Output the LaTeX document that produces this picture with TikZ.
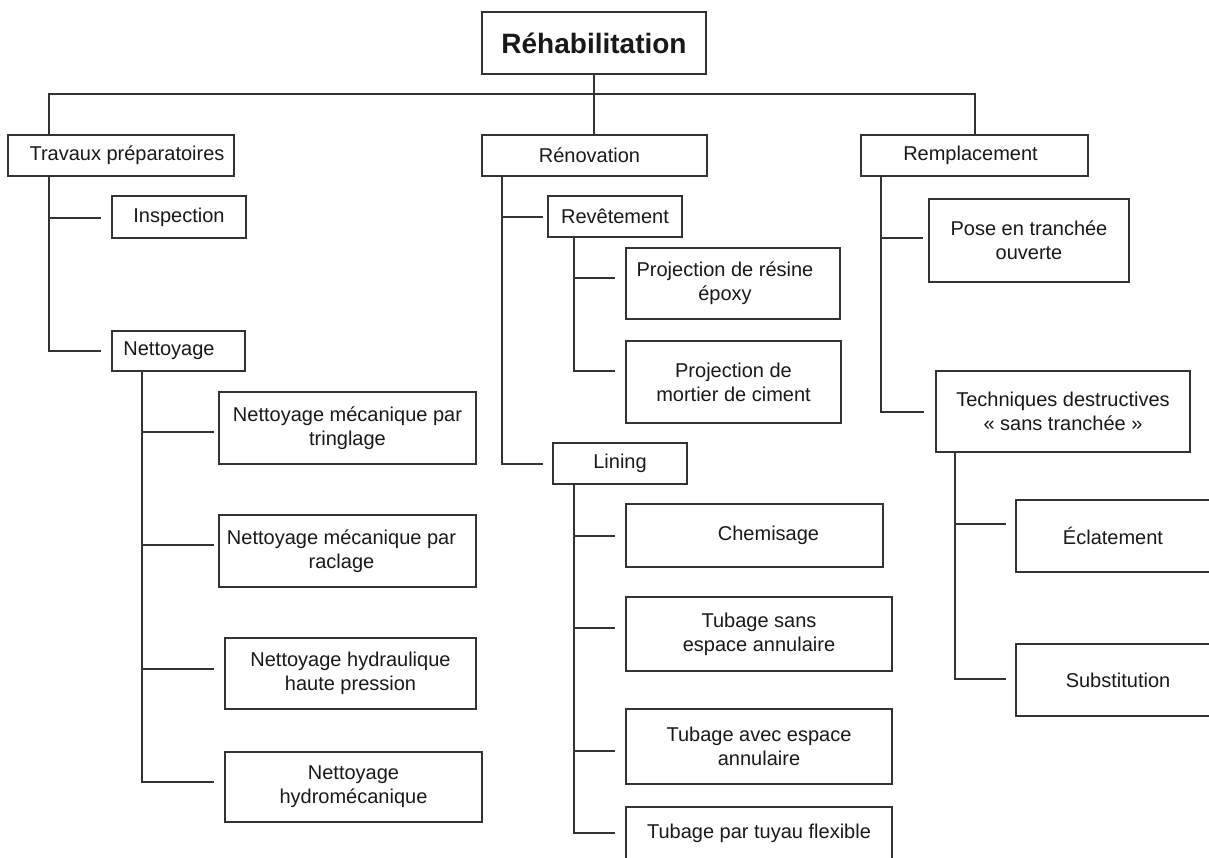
\documentclass[tikz,border=0pt]{standalone}
\usepackage{fontspec}
\setmainfont{Liberation Sans}
\begin{document}
\begin{tikzpicture}[x=1pt,y=-1pt,
  line/.style={draw=black!80,line width=1.3pt},
  box/.style={line,inner sep=0pt,align=center,text=black!90,
    font=\fontsize{20pt}{24pt}\selectfont},
  titlebox/.style={box,font=\fontsize{28pt}{32pt}\selectfont\bfseries}]
\useasboundingbox (0,0) rectangle (1209,857);
\fill[white] (0,0) rectangle (1209,857);
\clip (0,0) rectangle (1209,857);

% boxes
\node[titlebox,minimum width=224pt,minimum height=62pt] (reh) at (594,43) {Réhabilitation};
\node[box,minimum width=226pt,minimum height=41pt] (trav) at (121,155.5) {\hspace*{12pt}Travaux préparatoires};
\node[box,minimum width=225pt,minimum height=41pt] (ren) at (594.5,155.5) {Rénovation\hspace*{10pt}};
\node[box,minimum width=227pt,minimum height=41pt] (rem) at (974.5,155.5) {Remplacement\hspace*{8pt}};

\node[box,minimum width=134pt,minimum height=42pt] (insp) at (179,217) {Inspection};
\node[box,minimum width=133pt,minimum height=40pt] (nett) at (178.5,351) {Nettoyage\hspace*{19pt}};
\node[box,minimum width=257pt,minimum height=72pt] (nmt) at (347.5,428) {Nettoyage mécanique par\\tringlage};
\node[box,minimum width=257pt,minimum height=72pt] (nmr) at (347.5,551) {Nettoyage mécanique par\hspace*{12pt}\\raclage\hspace*{12pt}};
\node[box,minimum width=251pt,minimum height=71pt] (nhhp) at (350.5,673.5) {Nettoyage hydraulique\\haute pression};
\node[box,minimum width=257pt,minimum height=70pt] (nh) at (353.5,787) {Nettoyage\\hydromécanique};

\node[box,minimum width=134pt,minimum height=41pt] (rev) at (615,216.5) {Revêtement};
\node[box,minimum width=214pt,minimum height=71pt] (res) at (733,283.5) {Projection de résine\hspace*{16pt}\\époxy\hspace*{16pt}};
\node[box,minimum width=215pt,minimum height=82pt] (mort) at (733.5,382) {Projection de\\mortier de ciment};
\node[box,minimum width=134pt,minimum height=41pt] (lin) at (620,463.5) {Lining};
\node[box,minimum width=257pt,minimum height=63pt] (chem) at (754.5,535.5) {\hspace*{28pt}Chemisage};
\node[box,minimum width=266pt,minimum height=74pt] (tsans) at (759,634) {Tubage sans\\espace annulaire};
\node[box,minimum width=266pt,minimum height=75pt] (tavec) at (759,746.5) {Tubage avec espace\\annulaire};
\node[box,minimum width=266pt,minimum height=53pt] (tflex) at (759,833.5) {Tubage par tuyau flexible};

\node[box,minimum width=200pt,minimum height=83pt] (pose) at (1029,240.5) {Pose en tranchée\\ouverte};
\node[box,minimum width=254pt,minimum height=81pt] (tech) at (1063,411.5) {Techniques destructives\\« sans tranchée »};
\node[box,minimum width=194pt,minimum height=72pt] (ecl) at (1113,536) {Éclatement};
\node[box,minimum width=204pt,minimum height=72pt] (subs) at (1118,680) {Substitution};

% trunk coordinates and connector ends
\coordinate (hl) at (49,94);
\coordinate (hr) at (975,94);
\coordinate (e-insp) at (101,218);
\coordinate (e-nett) at (101,351);
\coordinate (e-nmt) at (214,432);
\coordinate (e-nmr) at (214,545);
\coordinate (e-nhhp) at (214,669);
\coordinate (e-nh) at (214,782);
\coordinate (e-rev) at (543,217);
\coordinate (e-lin) at (543,464);
\coordinate (e-res) at (615,278);
\coordinate (e-mort) at (615,371);
\coordinate (e-chem) at (615,536);
\coordinate (e-tsans) at (615,628);
\coordinate (e-tavec) at (615,751);
\coordinate (e-tflex) at (615,833);
\coordinate (e-pose) at (923,238);
\coordinate (e-tech) at (924,412);
\coordinate (e-ecl) at (1006,524);
\coordinate (e-subs) at (1006,679);

% top level
\draw[line] (reh.south) -- (reh.south |- ren.north);
\draw[line] (trav.north -| hl) -- (hl) -- (hr) -- (rem.north -| hr);

% Travaux preparatoires
\draw[line] (trav.south -| hl) |- (e-nett);
\draw[line] (e-insp -| hl) -- (e-insp);

% Nettoyage
\draw[line] (nett.south -| 142,0) |- (e-nh);
\draw[line] (e-nmt -| 142,0) -- (e-nmt);
\draw[line] (e-nmr -| 142,0) -- (e-nmr);
\draw[line] (e-nhhp -| 142,0) -- (e-nhhp);

% Renovation
\draw[line] (ren.south -| 502,0) |- (e-lin);
\draw[line] (e-rev -| 502,0) -- (e-rev);

% Revetement
\draw[line] (rev.south -| 574,0) |- (e-mort);
\draw[line] (e-res -| 574,0) -- (e-res);

% Lining
\draw[line] (lin.south -| 574,0) |- (e-tflex);
\draw[line] (e-chem -| 574,0) -- (e-chem);
\draw[line] (e-tsans -| 574,0) -- (e-tsans);
\draw[line] (e-tavec -| 574,0) -- (e-tavec);

% Remplacement
\draw[line] (rem.south -| 881,0) |- (e-tech);
\draw[line] (e-pose -| 881,0) -- (e-pose);

% Techniques destructives
\draw[line] (tech.south -| 955,0) |- (e-subs);
\draw[line] (e-ecl -| 955,0) -- (e-ecl);
\end{tikzpicture}
\end{document}
